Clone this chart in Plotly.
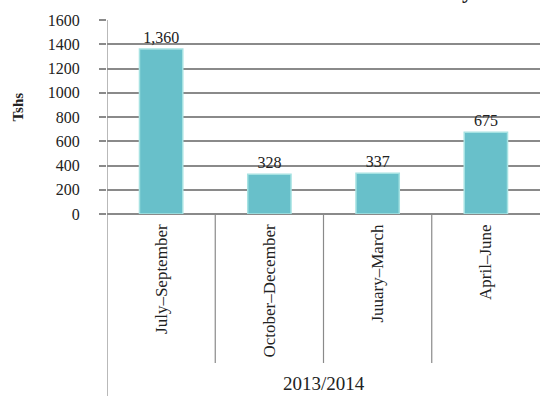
import plotly.graph_objects as go

# Quarterly amounts for the 2013/2014 financial year (Tshs)
quarters = ["July–September", "October–December", "Juuary–March", "April–June"]
amounts = [1360, 328, 337, 675]
year_label = "2013/2014"
y_ticks = [0, 200, 400, 600, 800, 1000, 1200, 1400, 1600]
chart_title = "Income Summary"

serif = "Liberation Serif, Times New Roman, serif"
grid_grey = "#8a8a8a"
ink = "#222"

fig = go.Figure()
fig.add_trace(go.Bar(
    x=quarters,
    y=amounts,
    width=0.4,
    marker=dict(color="#68c0ca", line=dict(color="#a6e2e2", width=1.5)),
    texttemplate="%{y:,}",
    textposition="outside",
    textfont=dict(family=serif, size=16, color=ink),
    cliponaxis=False,
    hoverinfo="x+y",
))

n = len(quarters)
# Left frame line running down past the category labels
fig.add_shape(type="line", xref="x", yref="paper", x0=-0.5, x1=-0.5, y0=-0.95, y1=1,
              line=dict(color=grid_grey, width=1.2), layer="above")
# Dividers between the quarter labels
for i in range(n - 1):
    fig.add_shape(type="line", xref="x", yref="paper", x0=i + 0.5, x1=i + 0.5,
                  y0=-0.768, y1=0, line=dict(color=grid_grey, width=1.2))

fig.add_annotation(x=(n - 1) / 2, xref="x", y=-0.876, yref="paper", text=year_label,
                   xanchor="center", yanchor="middle", showarrow=False,
                   font=dict(family=serif, size=19, color=ink))
fig.add_annotation(x=-0.205, xref="paper", y=0.55, yref="paper", text="<b>Tshs</b>",
                   xanchor="center", yanchor="middle", textangle=-90, showarrow=False,
                   font=dict(family=serif, size=15, color=ink))
# Chart title, mostly above the visible area
fig.add_annotation(x=0.85, xref="paper", y=1.077, yref="paper", text=f"<b>{chart_title}</b>",
                   xanchor="right", yanchor="bottom", showarrow=False,
                   font=dict(family=serif, size=22, color=ink))

fig.update_layout(
    width=540, height=396,
    margin=dict(l=107, r=0, t=20, b=182),
    paper_bgcolor="white", plot_bgcolor="white",
    showlegend=False,
    xaxis=dict(
        type="category",
        range=[-0.5, n - 0.5],
        tickangle=-90,
        tickfont=dict(family=serif, size=17, color=ink),
        showgrid=False, zeroline=False, showline=False, ticks="",
        ticklabelstandoff=6,
    ),
    yaxis=dict(
        range=[0, 1600],
        tickvals=y_ticks,
        tickfont=dict(family=serif, size=16, color=ink),
        showgrid=True, gridcolor=grid_grey, gridwidth=1.5,
        zeroline=True, zerolinecolor=grid_grey, zerolinewidth=1.5,
        showline=False,
        ticks="outside", ticklen=7, tickcolor=grid_grey, tickwidth=1.5,
        ticklabelstandoff=16,
    ),
)

fig.write_html("out.html")
